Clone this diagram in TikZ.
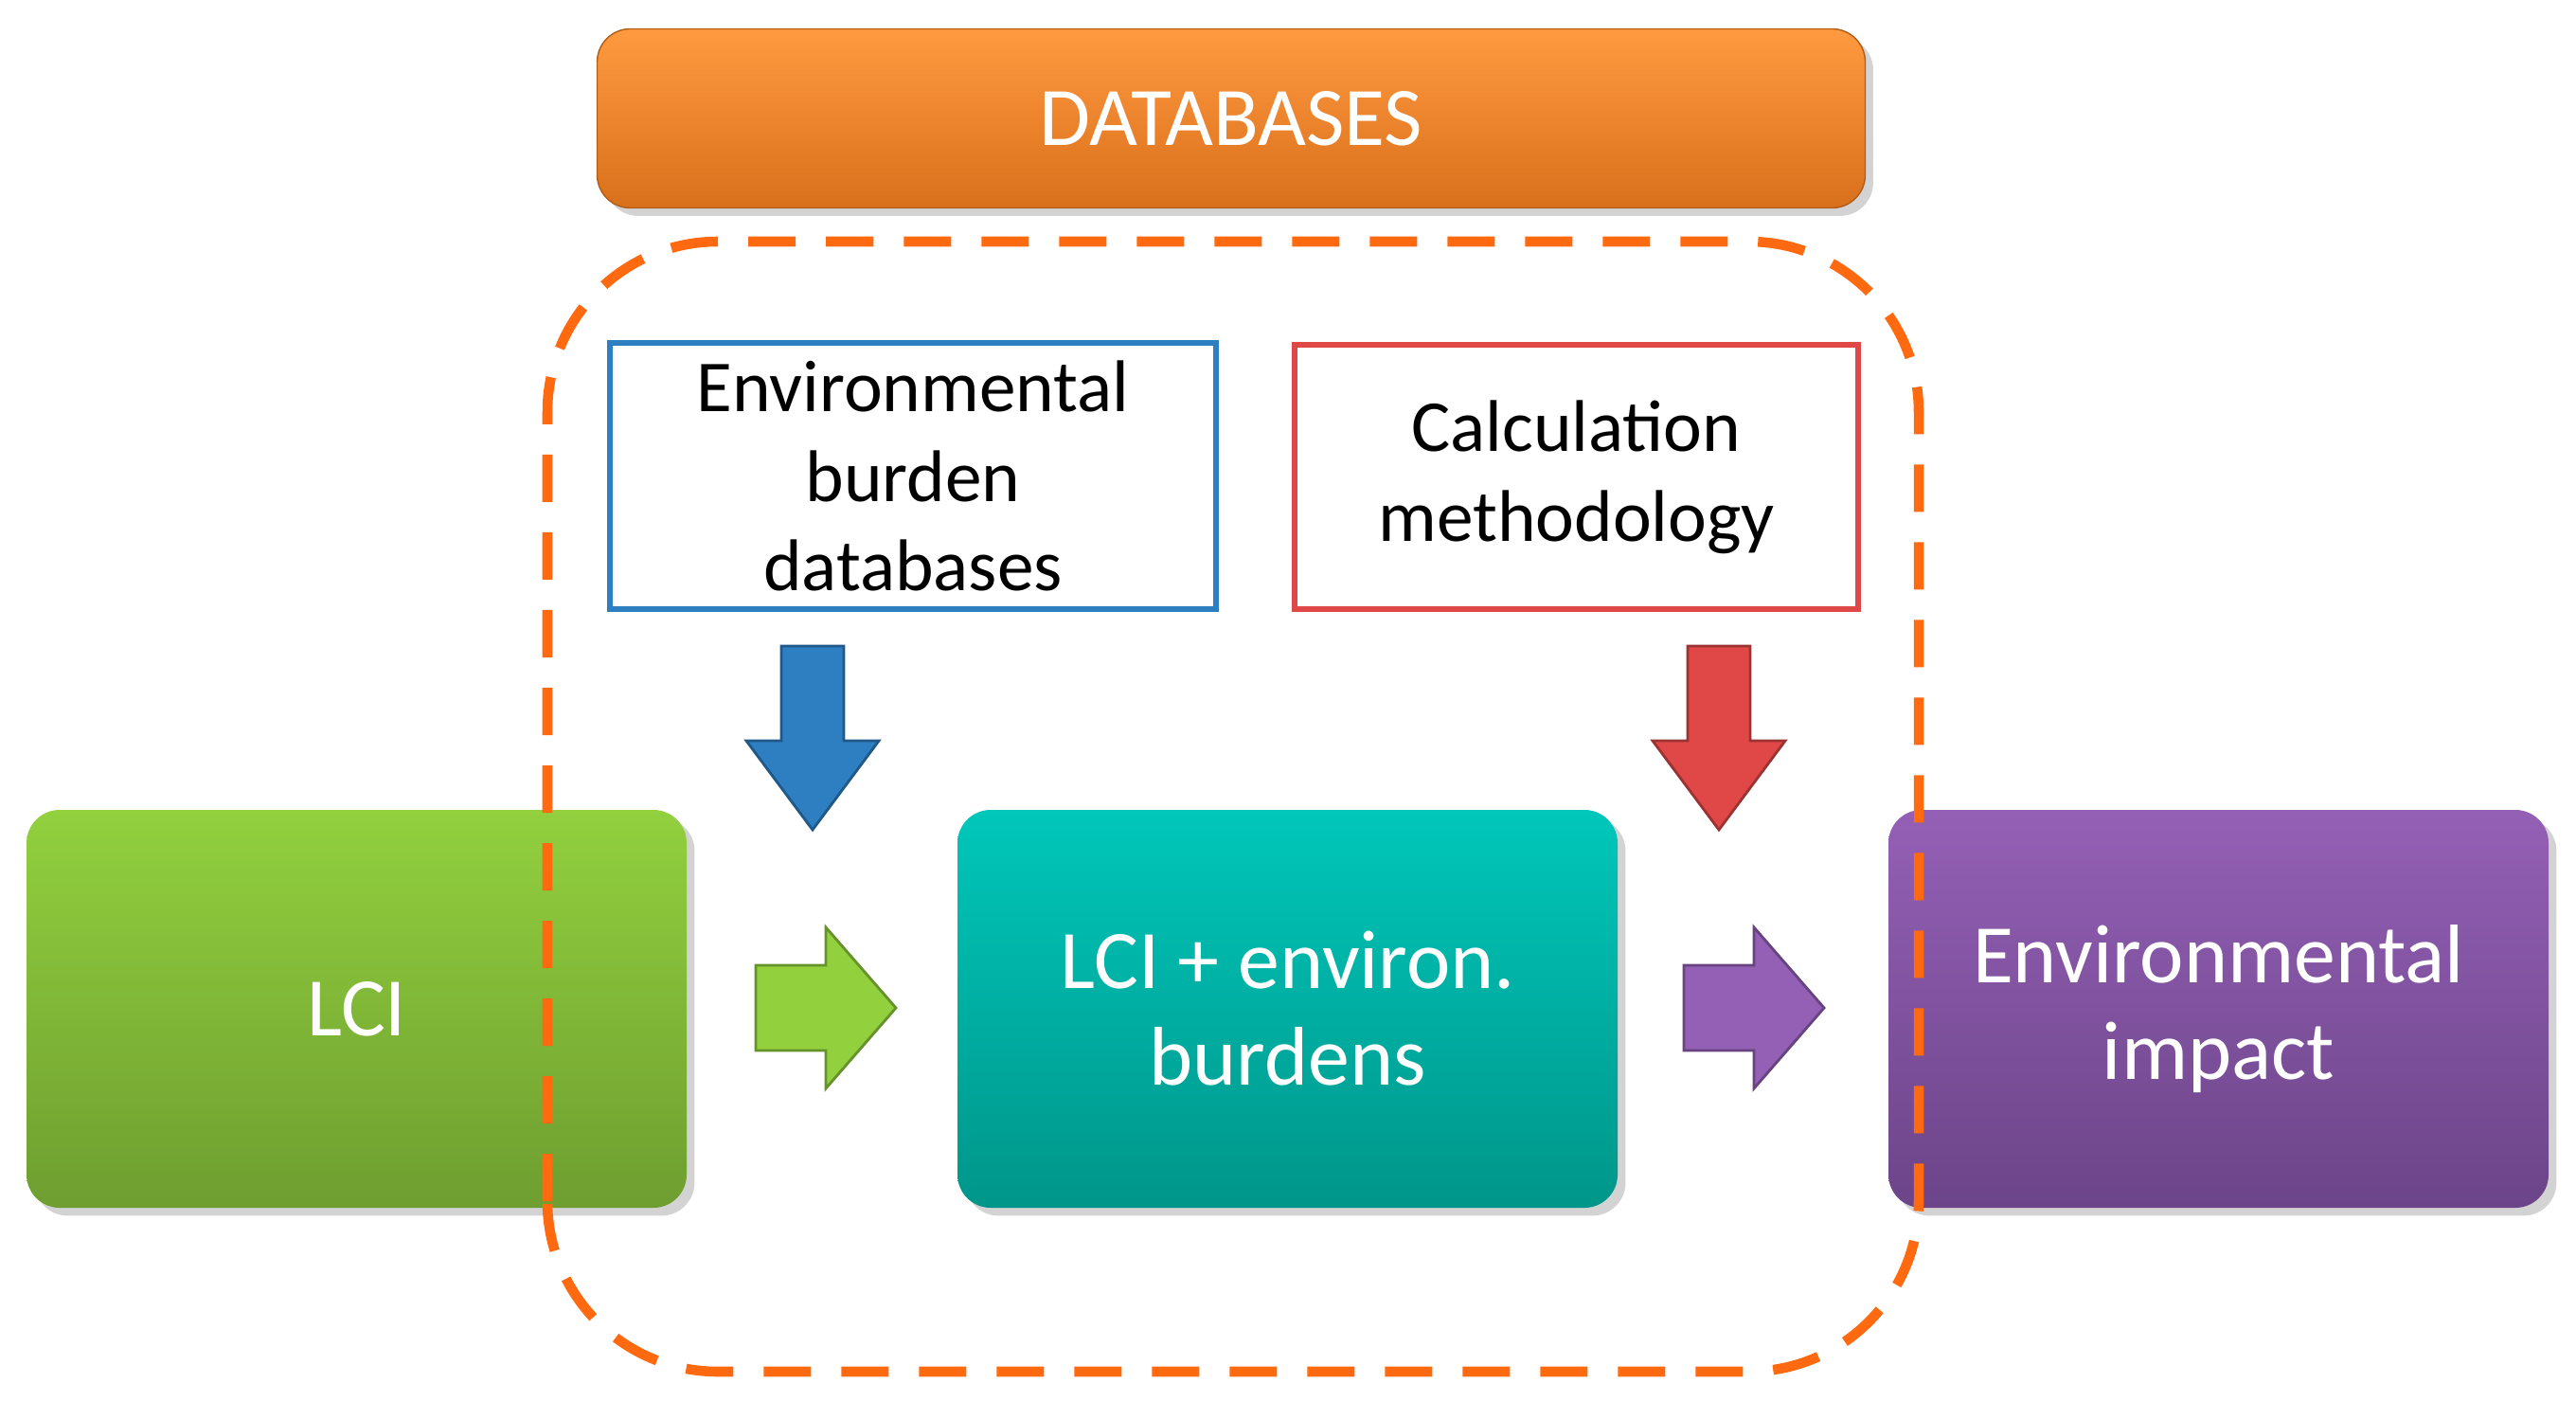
\documentclass[tikz,border=0pt]{standalone}
\usepackage{fontspec}
\setmainfont{Carlito}
\usetikzlibrary{shadows}
\definecolor{dbOrange}{HTML}{FF8320}
\definecolor{dbOrangeTop}{HTML}{FF9A40}
\definecolor{dashOrange}{HTML}{FF6A10}
\definecolor{lciTop}{HTML}{92D03E}
\definecolor{lciBot}{HTML}{6E9E30}
\definecolor{tealTop}{HTML}{00C7BA}
\definecolor{tealBot}{HTML}{00968A}
\definecolor{purTop}{HTML}{9460B6}
\definecolor{purBot}{HTML}{6C4488}
\definecolor{bBlue}{HTML}{2E7FC2}
\definecolor{bRed}{HTML}{E04848}
\tikzset{
  stage/.style={rounded corners=0.35cm, minimum width=6.97cm, minimum height=4.2cm,
    text=white, font=\fontsize{25}{29}\selectfont, align=center, drop shadow={opacity=0.35}},
  infobox/.style={draw, line width=1.6pt, align=center, font=\fontsize{22}{27}\selectfont},
  blockarrow/.style={draw=#1!70!black, line width=0.8pt, fill=#1}
}
\begin{document}
\begin{tikzpicture}
\useasboundingbox (0,0) rectangle (27.2,14.97);
% databases banner
\node (db) [rounded corners=0.35cm, minimum width=13.39cm, minimum height=1.89cm,
  top color=dbOrangeTop, bottom color=dbOrange!85!black, draw=dbOrange!70!black,
  text=white, font=\fontsize{25}{29}\selectfont, drop shadow={opacity=0.35}] at (13.0,13.72) {DATABASES};
% stages
\node (lci) [stage, top color=lciTop, bottom color=lciBot] at (3.765,4.32) {LCI};
\node (mid) [stage, top color=tealTop, bottom color=tealBot] at (13.595,4.32) {LCI + environ.\\burdens};
\node (imp) [stage, top color=purTop, bottom color=purBot] at (23.425,4.32) {Environmental\\impact};
% information boxes
\node (env) [infobox, draw=bBlue, minimum width=6.4cm, minimum height=2.81cm] at (9.64,9.945) {Environmental\\burden\\databases};
\node (calc) [infobox, draw=bRed, minimum width=5.95cm, minimum height=2.79cm] at (16.645,9.935) {Calculation\\methodology};
% down arrows
\draw[blockarrow=bBlue] (8.25,8.15) -- (8.91,8.15) -- (8.91,7.15) -- (9.28,7.15) -- (8.58,6.21)
  -- (7.88,7.15) -- (8.25,7.15) -- cycle;
\draw[blockarrow=bRed] (17.82,8.15) -- (18.48,8.15) -- (18.48,7.15) -- (18.85,7.15) -- (18.15,6.21)
  -- (17.45,7.15) -- (17.82,7.15) -- cycle;
% right arrows
\draw[blockarrow=lciTop] (7.98,3.88) -- (8.72,3.88) -- (8.72,3.48) -- (9.46,4.33) -- (8.72,5.18)
  -- (8.72,4.78) -- (7.98,4.78) -- cycle;
\draw[blockarrow=purTop] (17.78,3.88) -- (18.52,3.88) -- (18.52,3.48) -- (19.26,4.33) -- (18.52,5.18)
  -- (18.52,4.78) -- (17.78,4.78) -- cycle;
% dashed boundary
\draw[dashOrange, line width=3pt, dash pattern=on 0.5cm off 0.32cm, rounded corners=1.8cm]
  (5.78,0.49) rectangle (20.26,12.42);
\end{tikzpicture}
\end{document}
